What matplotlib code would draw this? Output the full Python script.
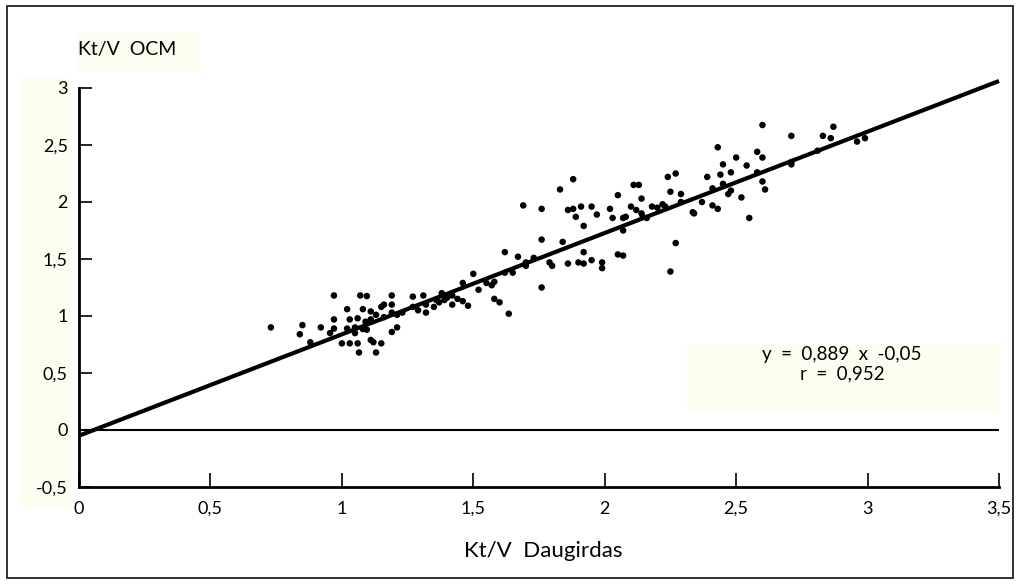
import matplotlib
matplotlib.use("Agg")
import matplotlib.pyplot as plt
from matplotlib.patches import Rectangle
import numpy as np

# ---- data ----
daugirdas = [0.73, 0.85, 0.84, 0.88, 0.92, 0.97, 0.97, 0.97, 0.955, 1.00,
             1.02, 1.03, 1.02, 1.03, 1.06, 1.05, 1.05, 1.065, 1.06, 1.07,
             1.095, 1.08, 1.09, 1.095, 1.08, 1.11, 1.12, 1.13, 1.15, 1.11,
             1.13, 1.15, 1.16, 1.19, 1.19, 1.19, 1.19, 1.21, 1.27, 1.27,
             1.31, 1.32, 1.32, 1.11, 1.16, 1.21, 1.23, 1.29, 1.35, 1.36,
             1.38, 1.39, 1.42, 1.42, 1.46, 1.46, 1.48, 1.50, 1.55, 1.57,
             1.58, 1.58, 1.60, 1.635, 1.62, 1.62, 1.65, 1.67, 1.69, 1.70,
             1.70, 1.73, 1.76, 1.76, 1.76, 1.79, 1.80, 1.83, 1.84, 1.86,
             1.88, 1.88, 1.86, 1.89, 1.91, 1.90, 1.92, 1.92, 1.92, 1.95,
             1.97, 1.95, 1.99, 1.99, 2.02, 2.03, 2.05, 2.05, 2.07, 2.07,
             2.07, 2.08, 2.10, 2.11, 2.13, 2.14, 2.12, 2.14, 2.145, 2.16,
             2.18, 2.20, 2.22, 2.23, 2.24, 2.25, 2.27, 2.27, 2.25, 2.29,
             2.29, 2.335, 2.34, 2.37, 2.39, 2.41, 2.41, 2.43, 2.43, 2.44,
             2.45, 2.45, 2.47, 2.48, 2.48, 2.50, 2.52, 2.54, 2.55, 2.58,
             2.58, 2.60, 2.60, 2.61, 2.60, 2.71, 2.71, 2.71, 2.81, 2.83,
             2.87, 2.86, 2.96, 2.99, 1.37, 1.40, 1.44, 1.52]
ocm = [0.90, 0.92, 0.84, 0.77, 0.90, 1.18, 0.97, 0.89, 0.85, 0.76,
       1.06, 0.97, 0.89, 0.76, 0.98, 0.90, 0.85, 0.68, 0.76, 1.18,
       1.175, 1.06, 0.95, 0.88, 0.885, 1.04, 0.77, 0.68, 0.76, 0.79,
       1.01, 1.08, 1.10, 1.18, 1.10, 1.03, 0.86, 0.90, 1.17, 1.08,
       1.18, 1.10, 1.03, 0.97, 0.99, 1.01, 1.03, 1.05, 1.08, 1.14,
       1.20, 1.14, 1.10, 1.18, 1.29, 1.13, 1.09, 1.37, 1.29, 1.27,
       1.30, 1.15, 1.12, 1.02, 1.56, 1.38, 1.38, 1.52, 1.97, 1.47,
       1.44, 1.51, 1.67, 1.25, 1.94, 1.47, 1.44, 2.11, 1.65, 1.93,
       1.94, 2.20, 1.46, 1.87, 1.96, 1.47, 1.46, 1.79, 1.56, 1.96,
       1.89, 1.49, 1.47, 1.42, 1.94, 1.86, 2.06, 1.54, 1.53, 1.75,
       1.86, 1.87, 1.96, 2.15, 2.15, 2.03, 1.93, 1.90, 1.87, 1.86,
       1.96, 1.95, 1.98, 1.96, 2.22, 2.09, 2.25, 1.64, 1.39, 2.07,
       2.00, 1.91, 1.90, 2.00, 2.22, 2.12, 1.97, 2.48, 1.94, 2.24,
       2.33, 2.16, 2.07, 2.10, 2.26, 2.39, 2.04, 2.32, 1.86, 2.44,
       2.26, 2.39, 2.18, 2.11, 2.675, 2.58, 2.33, 2.35, 2.45, 2.58,
       2.66, 2.56, 2.53, 2.56, 1.12, 1.16, 1.15, 1.23]
slope = 0.889
intercept = -0.05
x_ticks = [0, 0.5, 1, 1.5, 2, 2.5, 3, 3.5]
x_tick_labels = ["0", "0,5", "1", "1,5", "2", "2,5", "3", "3,5"]
y_ticks = [-0.5, 0, 0.5, 1, 1.5, 2, 2.5, 3]
y_tick_labels = ["-0,5", "0", "0,5", "1", "1,5", "2", "2,5", "3"]
x_label = "Kt/V  Daugirdas"
y_label = "Kt/V  OCM"
annotation = "y  =  0,889  x  -0,05\nr  =  0,952"

# ---- figure ----
W, H = 1020, 585
plt.rcParams['font.family'] = ['Lato', 'DejaVu Sans']
fig = plt.figure(figsize=(W / 100, H / 100), dpi=100)
fig.patch.set_facecolor("white")

def fx(px):
    return px / W

def fy(py):
    return 1 - py / H

panel_color = "#fdfdf0"
# background panels
for (x0, y0, x1, y1) in [(20, 78, 71, 508), (78, 33, 200, 71), (687, 345, 1000, 412)]:
    fig.patches.append(Rectangle((fx(x0), fy(y1)), fx(x1) - fx(x0), fy(y0) - fy(y1),
                                 transform=fig.transFigure, facecolor=panel_color,
                                 edgecolor="none", zorder=-2))
# outer border
fig.patches.append(Rectangle((fx(7), fy(578)), fx(1013) - fx(7), fy(6) - fy(578),
                             transform=fig.transFigure, facecolor="none",
                             edgecolor="#222222", linewidth=1.3, zorder=-1))

ax = fig.add_axes([fx(79), fy(487), fx(999) - fx(79), fy(88) - fy(487)])
ax.set_zorder(2)
ax.set_facecolor("none")
ax.set_xlim(0, 3.5)
ax.set_ylim(-0.5, 3.0)

for s in ["top", "right"]:
    ax.spines[s].set_visible(False)
for s in ["left", "bottom"]:
    ax.spines[s].set_linewidth(2.0)
    ax.spines[s].set_color("black")

ax.set_xticks(x_ticks)
ax.set_xticklabels(x_tick_labels)
ax.set_yticks(y_ticks)
ax.set_yticklabels(y_tick_labels)
ax.tick_params(axis="x", direction="in", length=10, width=1.2, pad=10, labelsize=13)
ax.tick_params(axis="y", direction="in", length=9, width=1.2, pad=8, labelsize=13)

# zero line
ax.axhline(0, color="black", linewidth=1.5, zorder=2)

# regression line
xl = np.array([0, 3.5])
ax.plot(xl, slope * xl + intercept, color="black", linewidth=3.0,
        solid_capstyle="butt", clip_on=False, zorder=3)

# points
ax.scatter(daugirdas, ocm, s=22, color="black", edgecolors="none", zorder=4)

# labels
fig.text(fx(543), fy(551), x_label, ha="center", va="center", fontsize=16)
fig.text(fx(78), fy(50), y_label, ha="left", va="center", fontsize=14)
fig.text(fx(842), fy(364), annotation, ha="center", va="center",
         fontsize=13.5, linespacing=1.2)

fig.savefig("out.png", dpi=100)
